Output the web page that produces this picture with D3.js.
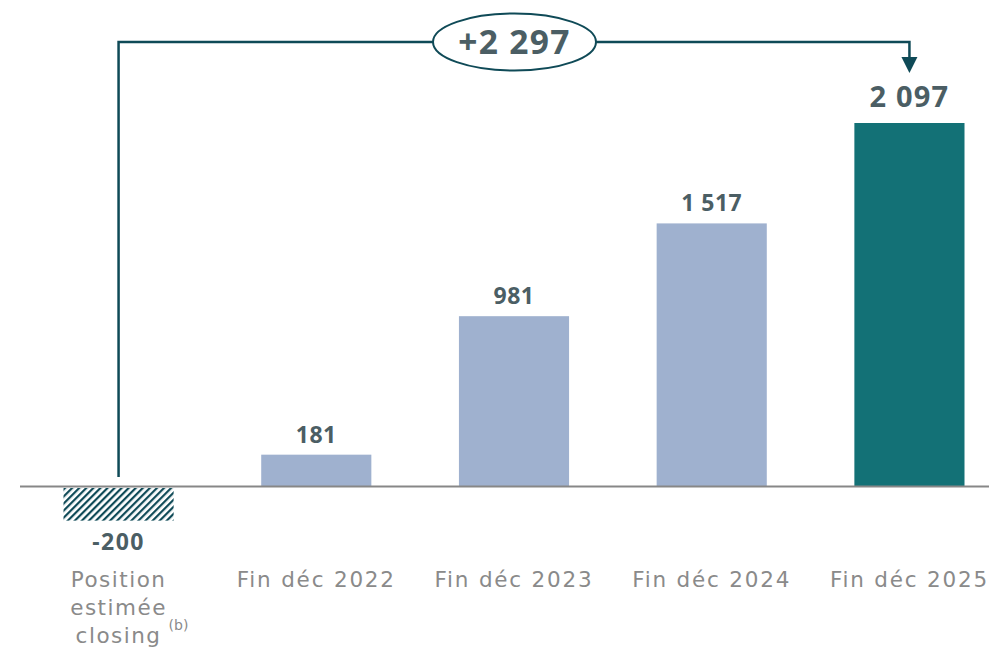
<!DOCTYPE html>
<html><head><meta charset="utf-8">
<script src="https://cdn.jsdelivr.net/npm/d3@7"></script>
<style>
html,body{margin:0;padding:0;background:#fff;}
svg{display:block;font-family:"Noto Sans",sans-serif;}
</style></head>
<body><svg id="c" width="989" height="651"></svg>
<script>
const categories = ["Position estimée closing", "Fin déc 2022", "Fin déc 2023", "Fin déc 2024", "Fin déc 2025"];
const values = [-200, 181, 981, 1517, 2097];
const valueLabels = ["-200", "181", "981", "1 517", "2 097"];
const deltaLabel = "+2 297";

const svg = d3.select("#c");
const x = d3.scaleBand().domain(categories).range([20, 1008]).paddingInner(0.443).paddingOuter(0.22);
const y = d3.scaleLinear().domain([0, 2097]).range([486, 123]);

const defs = svg.append("defs");
const pat = defs.append("pattern").attr("id","hatch").attr("patternUnits","userSpaceOnUse")
  .attr("width",5).attr("height",5).attr("patternTransform","rotate(45)");
pat.append("rect").attr("width",2.2).attr("height",5).attr("fill","#0f4a57");

const colorFor = i => i===0 ? "url(#hatch)" : (i===4 ? "#137176" : "#9fb1cf");

svg.selectAll("rect.bar").data(values).join("rect").attr("class","bar")
  .attr("x",(d,i)=>x(categories[i]))
  .attr("width",x.bandwidth())
  .attr("y",d=>d>=0?y(d):y(0)+2)
  .attr("height",d=>d>=0?y(0)-y(d):y(d)-y(0)-2)
  .attr("fill",(d,i)=>colorFor(i));

// baseline
svg.append("line").attr("x1",20).attr("x2",989).attr("y1",y(0)+0.5).attr("y2",y(0)+0.5)
  .attr("stroke","#878787").attr("stroke-width",2.2);

// value labels
svg.selectAll("text.val").data(values).join("text").attr("class","val")
  .attr("x",(d,i)=>x(categories[i])+x.bandwidth()/2)
  .attr("y",(d,i)=> d>=0 ? y(d)-(i===4?16:12) : y(d)+29)
  .attr("text-anchor","middle")
  .attr("font-weight","bold")
  .attr("font-size",(d,i)=>i===4?29:23)
  .attr("letter-spacing",(d,i)=>i===4?1.2:(i===0?1.5:0.5))
  .attr("fill","#4b5e64")
  .text((d,i)=>valueLabels[i]);

// category labels
const catY = 587;
const catFont = "DejaVu Sans";
categories.forEach((c,i)=>{
  const cx = x(c)+x.bandwidth()/2;
  if(i===0){
    const lines=["Position","estimée","closing"];
    const t = svg.append("text").attr("text-anchor","middle").attr("font-family",catFont)
      .attr("font-size",21.5).attr("letter-spacing",1.5).attr("fill","#8a8a8a");
    lines.forEach((l,j)=>t.append("tspan").attr("x",cx).attr("y",catY+j*28).text(l));
    svg.append("text").attr("x",cx+50).attr("y",catY+43).attr("font-family",catFont)
      .attr("font-size",14).attr("fill","#8a8a8a").text("(b)");
  } else {
    svg.append("text").attr("x",cx).attr("y",catY).attr("text-anchor","middle").attr("font-family",catFont)
      .attr("font-size",21.5).attr("letter-spacing",1.8).attr("fill","#8a8a8a").text(c);
  }
});

// annotation bracket
const x0 = x(categories[0])+x.bandwidth()/2;
const x4 = x(categories[4])+x.bandwidth()/2;
const topY = 42;
svg.append("path")
  .attr("d",`M${x0},${y(0)-9} L${x0},${topY} L${x4},${topY} L${x4},${58}`)
  .attr("fill","none").attr("stroke","#0f4a57").attr("stroke-width",2.5);
svg.append("path").attr("d",`M${x4-8},${57} L${x4+8},${57} L${x4},${73} Z`).attr("fill","#0f4a57");
const ex = (x0+x4)/2+0.5;
svg.append("ellipse").attr("cx",ex).attr("cy",topY).attr("rx",81.5).attr("ry",28.5)
  .attr("fill","#fff").attr("stroke","#0f4a57").attr("stroke-width",2);
svg.append("text").attr("x",ex).attr("y",topY+12).attr("text-anchor","middle")
  .attr("font-weight","bold").attr("font-size",33.5).attr("letter-spacing",1.3).attr("fill","#4b5e64").text(deltaLabel);
</script></body></html>
